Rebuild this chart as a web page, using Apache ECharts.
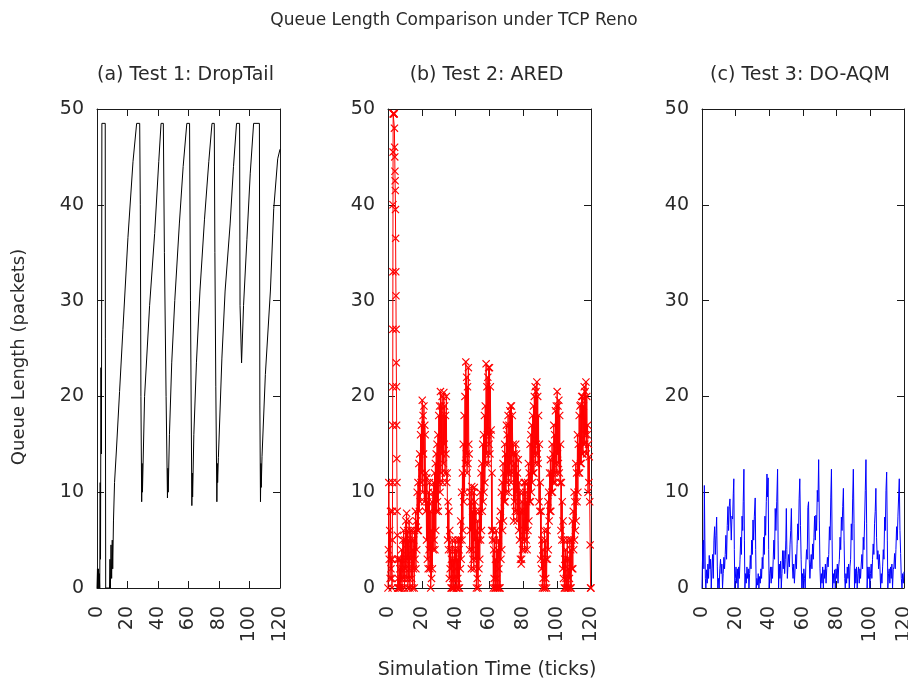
<!DOCTYPE html>
<html><head><meta charset="utf-8">
<script src="https://cdn.jsdelivr.net/npm/echarts@6/dist/echarts.min.js"></script>
<style>html,body{margin:0;padding:0;background:#fff}#c{width:908px;height:681px}</style>
</head><body><div id="c"></div>
<script>
const mainTitle = 'Queue Length Comparison under TCP Reno';
const panelTitles = ['(a) Test 1: DropTail', '(b) Test 2: ARED', '(c) Test 3: DO-AQM'];
const xAxisTitle = 'Simulation Time (ticks)';
const yAxisTitle = 'Queue Length (packets)';
const xTicks = [0, 20, 40, 60, 80, 100, 120];
const yTicks = [0, 10, 20, 30, 40, 50];

// (a) DropTail: [time, queue]
const dropTail = [[0,0],[0.3,2],[0.6,0],[0.9,2],[1.2,0],[1.5,1.5],[1.8,0],[2.1,11],[2.3,3],[2.6,23],[2.9,14],[3.2,48.5],[5.4,48.5],[5.5,26],[5.7,0],[8.2,0],[8.5,3],[8.8,0],[9.2,4.5],[9.6,1],[10.0,5],[10.3,2],[10.8,7],[11.5,11],[12.7,14.3],[14.8,20.5],[17.0,27],[20.3,36.6],[23.6,44.5],[26.0,48.5],[28.0,48.5],[28.4,40],[28.8,20],[29.3,9],[29.6,13],[29.8,10],[31.2,20],[34.5,29.5],[37.8,37],[40.5,44.5],[42.0,48.5],[43.5,48.5],[44.2,35],[45.3,20],[46.2,9.4],[46.5,12.5],[46.7,10],[47.5,16],[49.0,23.5],[51.0,30],[54.0,38],[56.5,44],[58.9,48.5],[60.7,48.5],[61.3,30],[62.2,8.6],[62.5,12],[62.7,9.5],[63.5,16],[65.2,23.5],[67.5,31],[70.5,38.5],[73.3,44.5],[75.4,48.5],[76.9,48.5],[77.3,35],[77.9,21],[78.6,9],[78.9,13],[79.1,11],[79.6,13.6],[81.9,24],[84,31],[87.3,38],[89.5,44],[91.5,48.5],[93.5,48.5],[93.8,29.5],[94.5,29.5],[94.8,23.5],[95.4,23.5],[96.1,29.5],[98.3,36.4],[100.5,43.3],[102.7,48.5],[106.5,48.5],[106.8,19],[107.2,9],[107.5,13],[107.7,10.5],[108.2,13.7],[110.4,22.3],[113.7,31],[115.9,39.6],[118.5,44.8],[120,45.8]];

// (b) ARED, start-up burst: [time, queue]
const aredBurst = [[0,0],[0.25,4],[0.5,11],[0.75,3],[1,6],[1.25,1],[1.5,8],[1.75,2],[2,3],[2.25,1],[2.4,0],[2.5,3],[2.6,5],[2.65,8],[2.7,11],[2.75,17],[2.8,21],[2.85,27],[2.9,33],[2.95,40],[3.0,45.5],[3.05,49.5],[3.2,49.5],[3.4,49.5],[3.55,49.5],[3.7,49.5],[3.8,48],[3.9,46],[4.0,45],[4.1,43.5],[4.2,42.5],[4.3,41.5],[4.4,39.5],[4.5,36.5],[4.6,33],[4.7,30.5],[4.8,27],[4.9,23.5],[5.0,21],[5.1,17],[5.2,13.5],[5.3,11],[5.4,8],[5.5,5.5],[5.6,3],[5.75,0]];
// (b) ARED afterwards, sampled every 0.25 ticks from t = 6
const aredStart = 6, aredDt = 0.25;
const aredValues = [
1,0,3,0, 2,0,3,1, 4,0,2,5, 1,6,3,0, 5,2,7,1, 7.8,3,6,0, 5,1,7,2, 0,6,3,5, 1,6,0,4, 2,5,0,6,
3,8,2,7, 4,10,6,11, 6,13,8,14, 9,16,11,17, 12,19.6,10,18, 14,19,9,17, 16,8,12,5, 11.5,3,9,2, 10,4,11,2, 8,0,6,1,
9,2,10,4, 11,5,12,4, 13,6,14,8, 15,9,16,8, 18,11,19,10, 20.5,12,19,14, 20,11,18,13, 20.4,15,19,12, 18,14,20,11, 12,5,9,4,
8,1,6,2, 4,0,3,0, 5,1,0,3, 0,4,1,5, 2,0,4,0, 3,1,5,0, 4,0,5,2, 7,3,10,5, 12,6,15,9, 18,10,20,13,
23.6,14,22,12, 21,13,23,15, 14,4,10,6, 9,2,10.6,4, 8,3,10,2, 10.5,5,9,3, 8,0,6,1, 7,0,5,2, 8,3,10,5, 12,6,13,8,
15,9,16,10, 18,11,19,13, 23.4,14,21,16, 22,13,23,15, 23,14,21,16, 16.5,6,12,5, 6,0,4,1, 5,0,3,0, 6,1,0,4, 0,5,2,0,
7,0,8,3, 10,4,11,6, 13,7,12,9, 15,9,14,10, 17,11,16,12, 18,10,17,12, 18.5,13,19,11, 19,12,18,14, 15,7,14,9, 13,8,15,10,
14,7,12,8, 13.4,6,11,5, 10,3,8,2.5, 3,9,4,10, 8,5,11,4, 11,6,10,5, 9,4,11,6, 13,7,12,9, 15,9,16,10, 17,11,18,12,
19,12,20,14, 21,13,20.5,15, 21.5,14,20,13, 18,9,15,8, 11,3,8,2, 5,0,4,1, 3,0,6,0, 5,1,3,0, 6,3,9,4, 10,7,12,8,
13.4,8,12,10, 15,10,14,11, 17,12,16,11, 18.5,13,19,12, 20.5,14,19,13, 19.6,12,18,11, 15,6,11,5, 9,2,7,1, 5,0,3,0, 4,1,0,3,
5,0,2,0, 3,1,5,0, 4,0,5,2, 7,2,8,4, 10,5,9,6, 13,7,12,9, 16,10,15,12, 18,12,19,13, 19.1,13,20,14, 20,14,19,15,
21,15,20.5,16, 21.5,14,20,16, 17,10,15,11, 13.7,9,4.5,0, 0];

// (c) DO-AQM: [time, queue]
const doAqm = [[0,0],[0.2,2.2],[0.5,4.5],[0.8,5.0],[1.1,2.0],[1.4,10.7],[1.7,5.0],[2.0,1.0],[2.3,0],[2.7,1.9],[3.1,0.5],[3.5,2.5],[3.9,1.0],[4.3,3.4],[4.7,2.0],[5.1,3.0],[5.5,0],[5.9,2.0],[6.3,3.5],[6.7,1.0],[7.1,5.0],[7.5,6.4],[7.9,3.5],[8.3,5.5],[8.7,7.4],[9.1,2.2],[9.4,0],
[9.8,1.0],[10.2,0],[10.6,2.0],[11.0,3.0],[11.4,1.5],[11.8,2.5],[12.2,0],[12.6,1.5],[13.0,3.2],[13.4,2.0],[13.8,3.5],[14.2,5.5],[14.6,3.0],[15.0,6.5],[15.4,8.5],[15.8,6.0],[16.2,8.5],[16.6,9.3],[17.0,7.2],[17.4,5.0],[17.8,7.5],[18.2,7.2],[18.6,9.9],[18.9,11.4],[19.2,4.0],[19.5,0],
[19.8,1.0],[20.2,2.2],[20.6,0.5],[21.0,2.0],[21.4,0],[21.8,2.2],[22.2,1.0],[22.6,3.0],[23.0,5.3],[23.4,3.5],[23.8,7.5],[24.2,6.0],[24.5,9.0],[24.9,12.4],[25.2,5.0],[25.5,0],
[25.9,1.5],[26.3,0.5],[26.7,2.2],[27.1,1.0],[27.5,2.0],[27.9,0],[28.3,1.5],[28.7,3.4],[29.1,2.0],[29.5,5.0],[29.9,3.5],[30.3,7.1],[30.7,5.0],[31.1,7.5],[31.6,9.4],[31.9,4.0],[32.2,0],
[32.6,1.0],[33.0,0.3],[33.4,1.5],[33.8,0],[34.2,1.2],[34.6,0.5],[35.0,2.0],[35.4,1.0],[35.8,3.2],[36.2,2.0],[36.6,5.3],[37.0,3.5],[37.4,7.5],[37.8,5.5],[38.2,9.0],[38.6,11.9],[38.9,9.5],[39.3,11.5],[39.6,4.0],[39.9,0],
[40.3,1.5],[40.7,2.2],[41.1,0.5],[41.5,2.2],[41.9,1.0],[42.3,3.0],[42.7,5.0],[43.1,3.0],[43.5,8.3],[43.9,6.0],[44.4,9.0],[44.9,12.4],[45.2,5.0],[45.5,0],
[45.9,2.5],[46.3,1.0],[46.7,2.8],[47.1,0],[47.5,1.5],[47.9,3.9],[48.3,2.0],[48.7,3.9],[49.1,1.5],[49.5,3.0],[49.8,5.0],[50.1,8.3],[50.4,4.0],[50.7,1.0],[51.1,2.5],[51.5,3.5],[51.9,2.2],[52.3,4.5],[52.7,6.0],[53.1,8.3],[53.4,5.0],[53.7,2.2],[54.1,1.0],[54.5,2.5],[54.9,0.5],[55.3,2.0],[55.7,3.5],[56.1,2.0],[56.5,4.5],[56.9,6.7],[57.3,5.0],[57.7,9.3],[58.1,11.4],[58.5,6.5],[58.9,3.0],[59.3,0],
[59.7,1.5],[60.1,0],[60.5,2.0],[60.9,1.0],[61.3,0],[61.7,2.5],[62.1,4.0],[62.5,3.0],[62.9,8.4],[63.3,9.0],[63.7,3.0],[64.1,1.0],
[64.5,2.5],[64.9,3.5],[65.3,2.0],[65.7,4.6],[66.1,3.0],[66.5,5.3],[66.9,7.5],[67.3,5.0],[67.7,7.6],[68.1,6.0],[68.5,10.2],[68.9,9.0],[69.3,13.4],[69.7,7.0],[70.1,2.0],[70.5,0],
[70.9,1.5],[71.3,0.5],[71.7,2.2],[72.1,0],[72.5,1.9],[72.9,1.0],[73.3,2.5],[73.7,0.5],[74.1,2.0],[74.5,3.2],[74.9,2.2],[75.3,3.5],[75.7,6.4],[76.1,5.0],[76.5,9.4],[76.9,12.4],[77.3,5.0],[77.6,0],
[78.0,1.5],[78.4,0.5],[78.8,1.9],[79.2,0],[79.6,2.0],[80.0,1.0],[80.4,2.5],[80.8,0.5],[81.2,2.2],[81.6,3.0],[82.0,5.3],[82.4,4.0],[82.8,7.4],[83.2,6.0],[83.6,8.5],[84.0,10.4],[84.4,5.0],[84.8,1.0],[85.1,0],
[85.5,1.5],[85.9,0.5],[86.3,2.2],[86.7,1.0],[87.1,2.5],[87.5,0],[87.9,2.2],[88.3,3.0],[88.7,6.7],[89.1,5.0],[89.5,9.3],[89.9,12.4],[90.3,6.7],[90.6,0],
[91.0,2.0],[91.4,0.5],[91.8,2.2],[92.2,0],[92.6,1.5],[93.0,2.2],[93.4,0.5],[93.8,2.0],[94.2,1.0],[94.6,2.5],[95.0,3.5],[95.4,2.0],[95.8,5.3],[96.2,4.0],[96.6,7.0],[97.0,10.2],[97.4,13.4],[97.8,6.7],[98.1,0],
[98.5,2.2],[98.9,1.0],[99.3,2.2],[99.7,0],[100.1,1.5],[100.5,2.5],[100.9,1.0],[101.3,3.0],[101.7,4.6],[102.1,3.5],[102.5,6.7],[102.9,8.0],[103.3,10.4],[103.7,5.3],[104.1,3.0],[104.5,3.9],[104.9,2.0],[105.3,3.5],[105.7,2.2],
[106.1,0],[106.5,1.5],[106.9,0.5],[107.3,2.2],[107.7,4.0],[108.1,3.0],[108.5,7.4],[108.9,6.0],[109.3,10.2],[109.7,12.1],[110.1,5.0],[110.4,0],
[110.8,1.5],[111.2,2.0],[111.6,0.5],[112.0,2.2],[112.4,1.0],[112.8,2.5],[113.2,0],[113.6,1.9],[114.0,2.2],[114.4,3.6],[114.8,2.0],[115.2,4.0],[115.6,6.4],[116.0,5.0],[116.4,7.5],[116.8,9.5],[117.2,11.4],[117.6,6.0],[118.0,3.6],[118.4,1.0],[118.8,0],[119.2,1.5],[119.6,0.5],[120.0,1.7]];

const ared = aredBurst.concat(aredValues.map((v, k) => [aredStart + k * aredDt, v]));

const FONT = 'DejaVu Sans';
const TXT = '#2a2a2a';
const AX = '#1a1a1a';
const FS = 19;
const panels = [
  { left: 97, width: 183, data: dropTail, color: '#000000', marker: false },
  { left: 388, width: 203, data: ared, color: '#ff0000', marker: true },
  { left: 702, width: 202, data: doAqm, color: '#0000ff', marker: false }
];
const plotTop = 109, plotBottom = 588;
const xStep = xTicks[1] - xTicks[0];
const yStep = yTicks[1] - yTicks[0];

const grid = [], xAxis = [], yAxis = [], series = [];
const xAx2 = [], yAx2 = [];
panels.forEach((p, i) => {
  grid.push({ left: p.left, width: p.width, top: plotTop, height: plotBottom - plotTop, containLabel: false, outerBoundsMode: 'none' });
  const lineCfg = { show: true, onZero: false, lineStyle: { color: AX, width: 1 } };
  const tickCfg = { show: true, inside: true, length: 7, lineStyle: { color: AX, width: 1 } };
  xAxis.push({
    type: 'value', gridIndex: i, position: 'bottom',
    min: xTicks[0], max: xTicks[xTicks.length - 1], interval: xStep,
    axisLine: lineCfg, axisTick: tickCfg, splitLine: { show: false },
    axisLabel: { show: true, rotate: 90, margin: 18, color: TXT, fontFamily: FONT, fontSize: FS,
      formatter: v => xTicks.indexOf(v) >= 0 ? String(v) : '' }
  });
  xAx2.push({
    type: 'value', gridIndex: i, position: 'top',
    min: xTicks[0], max: xTicks[xTicks.length - 1], interval: xStep,
    axisLine: lineCfg, axisTick: tickCfg, splitLine: { show: false }, axisLabel: { show: false }
  });
  yAxis.push({
    type: 'value', gridIndex: i, position: 'left',
    min: yTicks[0], max: yTicks[yTicks.length - 1], interval: yStep,
    axisLine: lineCfg, axisTick: tickCfg, splitLine: { show: false },
    axisLabel: { show: true, margin: 13, color: TXT, fontFamily: FONT, fontSize: FS,
      formatter: v => yTicks.indexOf(v) >= 0 ? String(v) : '' }
  });
  yAx2.push({
    type: 'value', gridIndex: i, position: 'right',
    min: yTicks[0], max: yTicks[yTicks.length - 1], interval: yStep,
    axisLine: lineCfg, axisTick: tickCfg, splitLine: { show: false }, axisLabel: { show: false }
  });
  const s = {
    type: 'line', xAxisIndex: i, yAxisIndex: i, data: p.data,
    smooth: false, animation: false, clip: true,
    lineStyle: { color: p.color, width: 1 },
    itemStyle: { color: p.color },
    emphasis: { disabled: true }
  };
  if (p.marker) {
    s.showSymbol = true;
    s.symbol = 'path://M0,1L1,0L5,4L9,0L10,1L6,5L10,9L9,10L5,6L1,10L0,9L4,5Z';
    s.symbolSize = 8;
  } else {
    s.showSymbol = false;
    s.symbol = 'none';
  }
  series.push(s);
});

const titles = [{ text: mainTitle, left: 'center', top: 7,
  textStyle: { fontFamily: FONT, fontSize: 17, fontWeight: 'normal', color: TXT } }];
panels.forEach((p, i) => {
  titles.push({ text: panelTitles[i], left: p.left + p.width / 2 - 8, top: 61, textAlign: 'center',
    textStyle: { fontFamily: FONT, fontSize: FS, fontWeight: 'normal', color: TXT } });
});

const chart = echarts.init(document.getElementById('c'), null, { renderer: 'canvas' });
chart.setOption({
  backgroundColor: '#ffffff',
  animation: false,
  title: titles,
  grid: grid,
  xAxis: xAxis.concat(xAx2),
  yAxis: yAxis.concat(yAx2),
  series: series,
  graphic: [
    { type: 'text', x: 487, y: 670, style: { text: xAxisTitle, fontFamily: FONT, fontSize: FS, fill: TXT, align: 'center', verticalAlign: 'middle' } },
    { type: 'text', x: 10, y: 357, rotation: Math.PI / 2, style: { text: yAxisTitle, fontFamily: FONT, fontSize: 18, fill: TXT, align: 'center', verticalAlign: 'top' } }
  ]
});
</script></body></html>
